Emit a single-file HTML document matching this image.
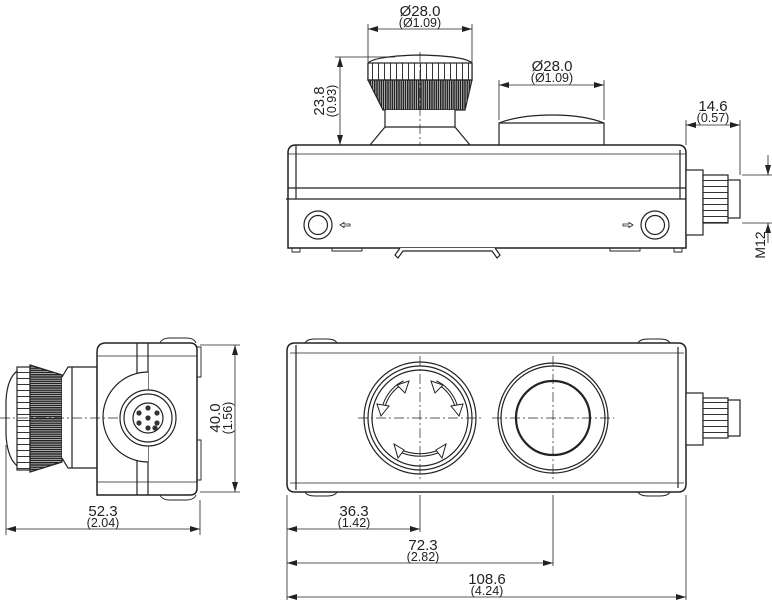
<!DOCTYPE html>
<html><head><meta charset="utf-8"><style>
html,body{margin:0;padding:0;background:#fff;}
svg{display:block;}
text{font-family:"Liberation Sans",sans-serif;fill:#222;}
</style></head><body>
<svg width="772" height="600" viewBox="0 0 772 600" xmlns="http://www.w3.org/2000/svg">
<defs>
<marker id="a" viewBox="0 0 10 6" refX="10" refY="3" markerWidth="10" markerHeight="6" orient="auto-start-reverse" markerUnits="userSpaceOnUse"><path d="M0,0 L10,3 L0,6 z" fill="#222"/></marker>
<pattern id="kn" width="2.2" height="10" patternUnits="userSpaceOnUse"><rect width="2.2" height="10" fill="#fff"/><rect width="1.6" height="10" fill="#222"/></pattern>
<pattern id="knh" width="10" height="2.2" patternUnits="userSpaceOnUse"><rect width="10" height="2.2" fill="#fff"/><rect width="10" height="1.6" fill="#222"/></pattern>
<pattern id="rg" width="6" height="10" patternUnits="userSpaceOnUse"><rect width="6" height="10" fill="#fff"/><rect width="1" height="10" fill="#333"/></pattern>
<pattern id="rgh" width="10" height="6" patternUnits="userSpaceOnUse"><rect width="10" height="6" fill="#fff"/><rect width="10" height="1" fill="#333"/></pattern>
</defs>
<g fill="none" stroke="#222" stroke-width="1.2">
<path d="M368,63 Q375,56 420,55 Q465,56 472,63 L472,80 L368,80 Z" fill="#fff"/>
<rect x="368" y="63" width="104" height="17" fill="url(#rg)"/>
<path d="M368,80 L472,80 L465,110 L383,110 Z" fill="url(#kn)"/>
<path d="M385,110 L385,127 L370,145 L470,145 L455,127 L455,110" fill="#fff"/>
<line x1="385" y1="127" x2="455" y2="127"/>
<line x1="420" y1="52" x2="420" y2="152" stroke-width="0.7" stroke-dasharray="10,3,2,3"/>
<path d="M499,145 L499,123 Q520,115 552,115 Q584,115 604,123 L604,145" fill="#fff"/>
<line x1="499" y1="123" x2="604" y2="123"/>
<path d="M288,248 L288,153 Q288,145 296,145 L678,145 Q686,145 686,153 L686,248 Z" fill="#fff" stroke-width="1.5"/>
<line x1="296" y1="145" x2="296" y2="199"/>
<line x1="680" y1="150" x2="680" y2="199"/>
<line x1="288" y1="154" x2="686" y2="154" stroke-width="0.8"/>
<line x1="288" y1="188" x2="686" y2="188"/>
<line x1="286" y1="199" x2="688" y2="199"/>
<circle cx="318" cy="225" r="14"/><circle cx="318" cy="225" r="9.5"/>
<circle cx="655" cy="225" r="14"/><circle cx="655" cy="225" r="9.5"/>
<path d="M340,225 l4,-2.5 v1.5 h6 v2 h-6 v1.5z" stroke-width="0.8"/>
<path d="M633,225 l-4,-2.5 v1.5 h-6 v2 h6 v1.5z" stroke-width="0.8"/>
<path d="M292,248 v4 h8 v-4 M332,248 v3 h30 v-3 M610,248 v3 h30 v-3 M674,248 v4 h8 v-4" stroke-width="0.9"/>
<path d="M400,248 L395,255 l3,3 l5,-7 L492,251 l5,7 l3,-3 l-5,-7" fill="#fff"/>
<rect x="686" y="170" width="17" height="65" fill="#fff"/>
<rect x="703" y="175" width="25" height="48" fill="url(#rgh)"/>
<rect x="728" y="180" width="12" height="38" fill="#fff"/>
<line x1="368" y1="62" x2="368" y2="24" stroke-width="0.8"/>
<line x1="472" y1="62" x2="472" y2="24" stroke-width="0.8"/>
<line x1="368" y1="29" x2="472" y2="29" stroke-width="0.8" marker-start="url(#a)" marker-end="url(#a)"/>
<line x1="499" y1="120" x2="499" y2="80" stroke-width="0.8"/>
<line x1="604" y1="120" x2="604" y2="80" stroke-width="0.8"/>
<line x1="499" y1="85" x2="604" y2="85" stroke-width="0.8" marker-start="url(#a)" marker-end="url(#a)"/>
<line x1="335" y1="57" x2="395" y2="57" stroke-width="0.8"/>
<line x1="340" y1="57" x2="340" y2="145" stroke-width="0.8" marker-start="url(#a)" marker-end="url(#a)"/>
<line x1="686" y1="145" x2="686" y2="120" stroke-width="0.8"/>
<line x1="740" y1="175" x2="740" y2="120" stroke-width="0.8"/>
<line x1="686" y1="125" x2="740" y2="125" stroke-width="0.8" marker-start="url(#a)" marker-end="url(#a)"/>
<line x1="742" y1="175" x2="772" y2="175" stroke-width="0.8"/>
<line x1="742" y1="223" x2="772" y2="223" stroke-width="0.8"/>
<line x1="768" y1="155" x2="768" y2="175" stroke-width="0.8" marker-end="url(#a)"/>
<line x1="768" y1="243" x2="768" y2="223" stroke-width="0.8" marker-end="url(#a)"/>

<path d="M30,367 Q8,367 6,400 L6,435 Q8,470 30,470 Z" fill="#fff"/>
<rect x="17" y="367" width="13" height="103" fill="url(#rgh)"/>
<path d="M30,365 L62,375 L62,462 L30,472 Z" fill="url(#knh)"/>
<path d="M62,377 L68,367 L97,367 L97,468 L68,468 L62,458" fill="#fff"/>
<line x1="72" y1="367" x2="72" y2="468"/>
<path d="M97,495 L97,352 Q97,343 106,343 L190,343 Q197,343 197,350 L197,488 Q197,495 190,495 Z" fill="#fff" stroke-width="1.5"/>
<path d="M160,343 q2,-5 10,-5 h16 q8,0 10,5 M160,495 q2,5 10,5 h16 q8,0 10,-5" stroke-width="0.9"/>
<line x1="137" y1="343" x2="137" y2="375"/><line x1="137" y1="460" x2="137" y2="495"/>
<line x1="148" y1="343" x2="148" y2="495"/>
<line x1="97" y1="356" x2="197" y2="356" stroke-width="0.7"/>
<line x1="97" y1="482" x2="197" y2="482" stroke-width="0.7"/>
<path d="M148,372 A45,45 0 0 0 148,462" fill="#fff"/>
<circle cx="148" cy="418" r="28" fill="#fff"/><circle cx="148" cy="418" r="24"/><circle cx="148" cy="418" r="15"/>
<g fill="#333" stroke="none"><circle cx="148" cy="418" r="2.6"/><circle cx="148" cy="408" r="2.6"/><circle cx="157" cy="413" r="2.6"/><circle cx="157" cy="423" r="2.6"/><circle cx="148" cy="428" r="2.6"/><circle cx="139" cy="423" r="2.6"/><circle cx="139" cy="413" r="2.6"/><circle cx="155" cy="428" r="2.6"/></g>
<path d="M197,347 h4 v30 h-4 M197,440 h4 v40 h-4" stroke-width="0.9"/>
<line x1="0" y1="418" x2="120" y2="418" stroke-width="0.7" stroke-dasharray="10,3,2,3"/>
<line x1="200" y1="345" x2="240" y2="345" stroke-width="0.8"/>
<line x1="200" y1="492" x2="240" y2="492" stroke-width="0.8"/>
<line x1="235" y1="345" x2="235" y2="492" stroke-width="0.8" marker-start="url(#a)" marker-end="url(#a)"/>
<line x1="6" y1="445" x2="6" y2="535" stroke-width="0.8"/>
<line x1="200" y1="500" x2="200" y2="535" stroke-width="0.8"/>
<line x1="6" y1="529" x2="200" y2="529" stroke-width="0.8" marker-start="url(#a)" marker-end="url(#a)"/>

<path d="M287,484 L287,351 Q287,343 295,343 L678,343 Q686,343 686,351 L686,484 Q686,492 678,492 L295,492 Q287,492 287,484 Z" fill="#fff" stroke-width="1.5"/>
<line x1="296" y1="345" x2="296" y2="490"/><line x1="678" y1="347" x2="678" y2="488"/>
<line x1="290" y1="353" x2="684" y2="353" stroke-width="0.8"/>
<line x1="290" y1="483" x2="684" y2="483" stroke-width="0.8"/>
<path d="M305,343 q2,-4 10,-4 h12 q8,0 10,4 M638,343 q2,-4 10,-4 h12 q8,0 10,4 M305,492 q2,4 10,4 h12 q8,0 10,-4 M638,492 q2,4 10,4 h12 q8,0 10,-4" stroke-width="0.9"/>
<circle cx="420" cy="418" r="56"/><circle cx="420" cy="418" r="52"/><circle cx="420" cy="418" r="48"/>
<path d="M383,410 A38,38 0 0 1 404,382" stroke-width="3.5"/><path d="M383,410 A38,38 0 0 1 404,382" stroke="#fff" stroke-width="1.5"/>
<path d="M457,410 A38,38 0 0 0 436,382" stroke-width="3.5"/><path d="M457,410 A38,38 0 0 0 436,382" stroke="#fff" stroke-width="1.5"/>
<path d="M398,450 Q420,460 442,450" stroke-width="3.5"/><path d="M398,450 Q420,460 442,450" stroke="#fff" stroke-width="1.5"/>
<path d="M377,404 l12,2 l-8,10z M409,381 l-4,12 l-8,-8z M463,404 l-12,2 l8,10z M431,381 l4,12 l8,-8z M394,444 l4,14 l6,-8z M446,444 l-4,14 l-6,-8z" fill="#fff" stroke-width="1"/>
<circle cx="553" cy="418" r="55"/><circle cx="553" cy="418" r="52"/>
<ellipse cx="553" cy="418" rx="37" ry="37" stroke-width="2.2"/>
<g stroke-width="0.7" stroke-dasharray="10,3,2,3">
<line x1="358" y1="418" x2="482" y2="418"/><line x1="420" y1="356" x2="420" y2="480"/>
<line x1="492" y1="418" x2="614" y2="418"/><line x1="553" y1="356" x2="553" y2="480"/>
</g>
<rect x="686" y="393" width="17" height="52" fill="#fff"/>
<rect x="703" y="398" width="25" height="40" fill="url(#rgh)"/>
<rect x="728" y="400" width="12" height="36" fill="#fff"/>
<line x1="287" y1="495" x2="287" y2="600" stroke-width="0.8"/>
<line x1="420" y1="495" x2="420" y2="532" stroke-width="0.8"/>
<line x1="553" y1="495" x2="553" y2="566" stroke-width="0.8"/>
<line x1="686" y1="495" x2="686" y2="600" stroke-width="0.8"/>
<line x1="287" y1="529" x2="420" y2="529" stroke-width="0.8" marker-start="url(#a)" marker-end="url(#a)"/>
<line x1="287" y1="563" x2="553" y2="563" stroke-width="0.8" marker-start="url(#a)" marker-end="url(#a)"/>
<line x1="287" y1="597" x2="686" y2="597" stroke-width="0.8" marker-start="url(#a)" marker-end="url(#a)"/>
</g>
<g text-anchor="middle">
<text x="420" y="16" font-size="15">Ø28.0</text><text x="420" y="27" font-size="12.5">(Ø1.09)</text>
<text x="552" y="71" font-size="15">Ø28.0</text><text x="552" y="82" font-size="12.5">(Ø1.09)</text>
<text x="713" y="111" font-size="15">14.6</text><text x="713" y="122" font-size="12.5">(0.57)</text>
<text transform="translate(324,101) rotate(-90)" font-size="15">23.8</text>
<text transform="translate(336,101) rotate(-90)" font-size="12.5">(0.93)</text>
<text transform="translate(765,245) rotate(-90)" font-size="14">M12</text>
<text transform="translate(220,418) rotate(-90)" font-size="15">40.0</text>
<text transform="translate(232,418) rotate(-90)" font-size="12.5">(1.56)</text>
<text x="103" y="516" font-size="15">52.3</text><text x="103" y="527" font-size="12.5">(2.04)</text>
<text x="354" y="516" font-size="15">36.3</text><text x="354" y="527" font-size="12.5">(1.42)</text>
<text x="423" y="550" font-size="15">72.3</text><text x="423" y="561" font-size="12.5">(2.82)</text>
<text x="487" y="584" font-size="15">108.6</text><text x="487" y="595" font-size="12.5">(4.24)</text>
</g>
</svg>
</body></html>
